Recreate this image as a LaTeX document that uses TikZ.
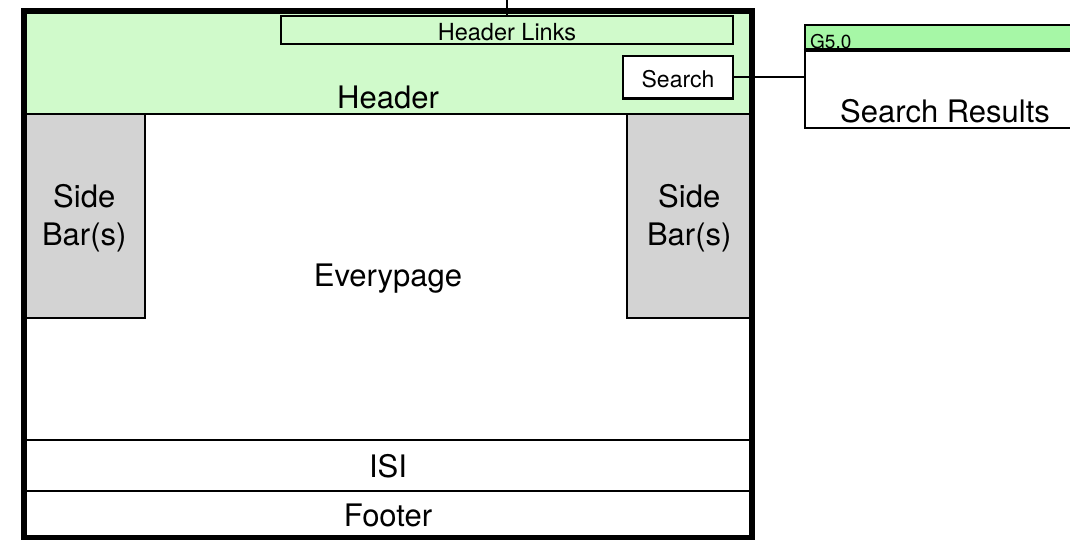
\documentclass[tikz,border=0pt]{standalone}
\usepackage{fontspec}
\setmainfont{TeX Gyre Heros}
\definecolor{hdrgreen}{RGB}{208,250,203}
\definecolor{bandgreen}{RGB}{166,247,166}
\definecolor{sidegray}{RGB}{211,211,211}
\begin{document}
\begin{tikzpicture}[x=1pt,y=-1pt,
  box/.style={draw=black,rectangle,inner sep=0pt,line width=2.4pt},
  big/.style={font=\fontsize{31}{37}\selectfont,inner sep=0pt,anchor=base},
  conn/.style={draw=black,line width=2.4pt}]
\useasboundingbox (0,0) rectangle (1070,539);
\clip (0,0) rectangle (1070,539);
% header
\node[box,fill=hdrgreen,minimum width=728pt,minimum height=103.5pt] (header) at (387.5,62.25) {};
\node[big] (headertxt) at (388,108) {Header};
% header links
\node[box,fill=hdrgreen,line width=2.8pt,minimum width=452pt,minimum height=28pt] (hlinks) at (507,30) {};
\node[inner sep=0pt,anchor=base,font=\fontsize{23.5}{28}\selectfont] (hlinkstxt) at (507,40) {Header Links};
% search
\node[box,fill=white,minimum width=110pt,minimum height=42.5pt] (search) at (678,77.25) {};
\node[inner sep=0pt,anchor=base,font=\fontsize{23}{28}\selectfont] (searchtxt) at (678,87) {Search};
% side bars
\node[box,fill=sidegray,minimum width=121.5pt,minimum height=204pt] (lside) at (84.25,216) {};
\node[big] (lside1) at (84.25,207) {Side};
\node[big] (lside2) at (84.25,245) {Bar(s)};
\node[box,fill=sidegray,minimum width=124.5pt,minimum height=204pt] (rside) at (689.25,216) {};
\node[big] (rside1) at (689.25,207) {Side};
\node[big] (rside2) at (689.25,245) {Bar(s)};
% everypage
\node[big] (every) at (388,286) {Everypage};
% ISI, footer
\node[box,line width=2.8pt,minimum width=728pt,minimum height=51pt] (isi) at (387.5,465.5) {};
\node[big] (isitxt) at (388,477) {ISI};
\node[box,line width=2.8pt,minimum width=728pt,minimum height=46.5pt] (footer) at (387.5,514.25) {};
\node[big] (footertxt) at (388,526) {Footer};
% main frame
\node[box,line width=6pt,minimum width=728pt,minimum height=527pt] (frame) at (387.5,274) {};
% search results
\node[box,fill=white,line width=2.8pt,minimum width=280pt,minimum height=103pt] (results) at (945,76.5) {};
\node[box,fill=bandgreen,line width=2.8pt,minimum width=280pt,minimum height=24pt] (band) at (945,37) {};
\node[inner sep=0pt,anchor=base west,font=\fontsize{19}{23}\selectfont] (g50) at (810,48) {G5.0};
\draw[line width=2.8pt] (band.south west) -- (band.south east);
\node[big] (resultstxt) at (945,122) {Search Results};
% connectors
\coordinate (topend) at (507,-5);
\draw[conn] (topend) -- (hlinks.north);
\draw[conn] (search.east) -- (search.east -| results.west);
\end{tikzpicture}
\end{document}
